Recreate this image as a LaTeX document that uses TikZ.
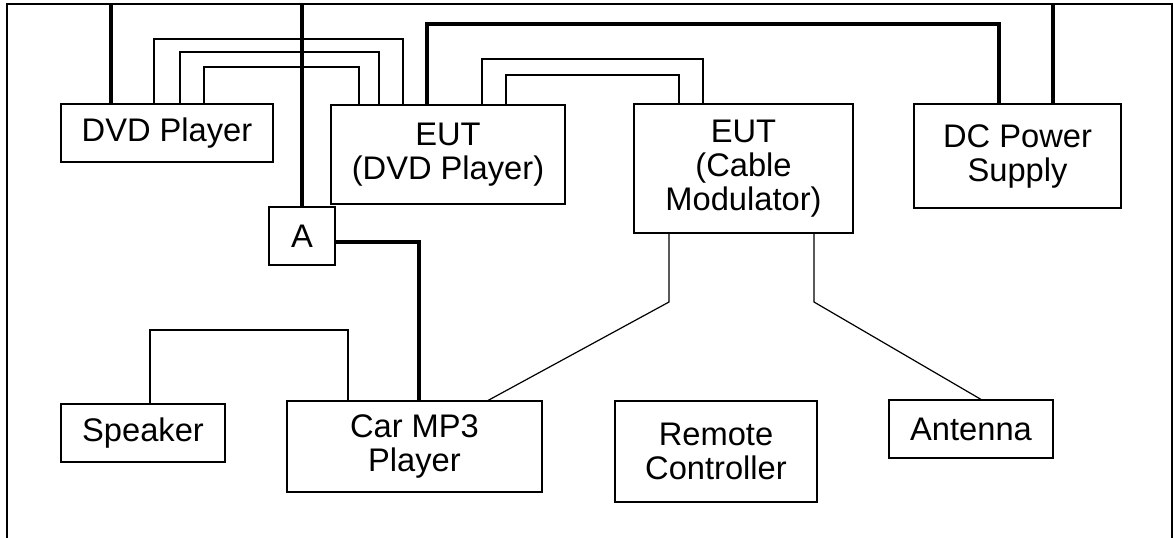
\documentclass[tikz,border=0pt]{standalone}
\usepackage{fontspec}
\setmainfont{Liberation Sans}
\usetikzlibrary{calc}

\tikzset{
  unit/.style={draw, line width=1pt, inner sep=0pt, outer sep=0pt, align=center,
    font=\fontsize{24.5}{25.5}\selectfont},
  thinwire/.style={line width=0.9pt},
  powerwire/.style={line width=3.2pt},
}

\begin{document}
\begin{tikzpicture}[x=0.75pt,y=0.75pt,yscale=-1,xscale=1]
  \useasboundingbox (0,0) rectangle (1174,537);
  % frame
  \draw [line width=1.5pt] (7,4) rectangle (1172,570) ;
  \coordinate (top) at (0,4) ;

  % units
  \node [unit, minimum width=159pt, minimum height=43.5pt] (dvd) at (167,133) {DVD Player};
  \node [unit, minimum width=175.5pt, minimum height=74.25pt] (eutdvd) at (448,154.5) {EUT\\(DVD Player)};
  \node [unit, minimum width=164.25pt, minimum height=96.75pt] (mod) at (743.5,168.5) {EUT\\(Cable\\Modulator)};
  \node [unit, minimum width=155.25pt, minimum height=78pt] (dc) at (1017.5,156) {DC Power\\Supply};
  \node [unit, minimum width=49.5pt, minimum height=43.5pt] (A) at (302,236) {A};
  \node [unit, minimum width=123pt, minimum height=43.5pt] (spk) at (143,433) {Speaker};
  \node [unit, minimum width=191.25pt, minimum height=68.25pt] (car) at (414.5,446.5) {Car MP3\\Player};
  \node [unit, minimum width=151.5pt, minimum height=75.75pt] (rem) at (716,451.5) {Remote\\Controller};
  \node [unit, minimum width=123pt, minimum height=43.5pt] (ant) at (971,429) {Antenna};

  % power cables
  \draw [powerwire] (dvd.north -| 111,0) -- (top -| 111,0) ;
  \draw [powerwire] (A.north) -- (A.north |- top) ;
  \draw [powerwire] (eutdvd.north -| 427,0) |- (999,24) -- (dc.north -| 999,0) ;
  \draw [powerwire] (dc.north -| 1053,0) -- (top -| 1053,0) ;
  \draw [powerwire] (A.east |- 0,242) -| (car.north -| 419,0) ;

  % signal cables
  \draw [thinwire] (dvd.north -| 154,0) |- (403,39) -- (eutdvd.north -| 403,0) ;
  \draw [thinwire] (dvd.north -| 180,0) |- (379,52) -- (eutdvd.north -| 379,0) ;
  \draw [thinwire] (dvd.north -| 204,0) |- (359,67) -- (eutdvd.north -| 359,0) ;
  \draw [thinwire] (eutdvd.north -| 482,0) |- (703,59) -- (mod.north -| 703,0) ;
  \draw [thinwire] (eutdvd.north -| 506,0) |- (679,75) -- (mod.north -| 679,0) ;
  \draw [thinwire] (mod.south -| 669,0) -- (669,302) -- (car.north -| 487,0) ;
  \draw [thinwire] (mod.south -| 814,0) -- (814,302) -- (ant.north -| 982,0) ;
  \draw [thinwire] (spk.north -| 150,0) |- (348,330) -- (car.north -| 348,0) ;
\end{tikzpicture}
\end{document}
